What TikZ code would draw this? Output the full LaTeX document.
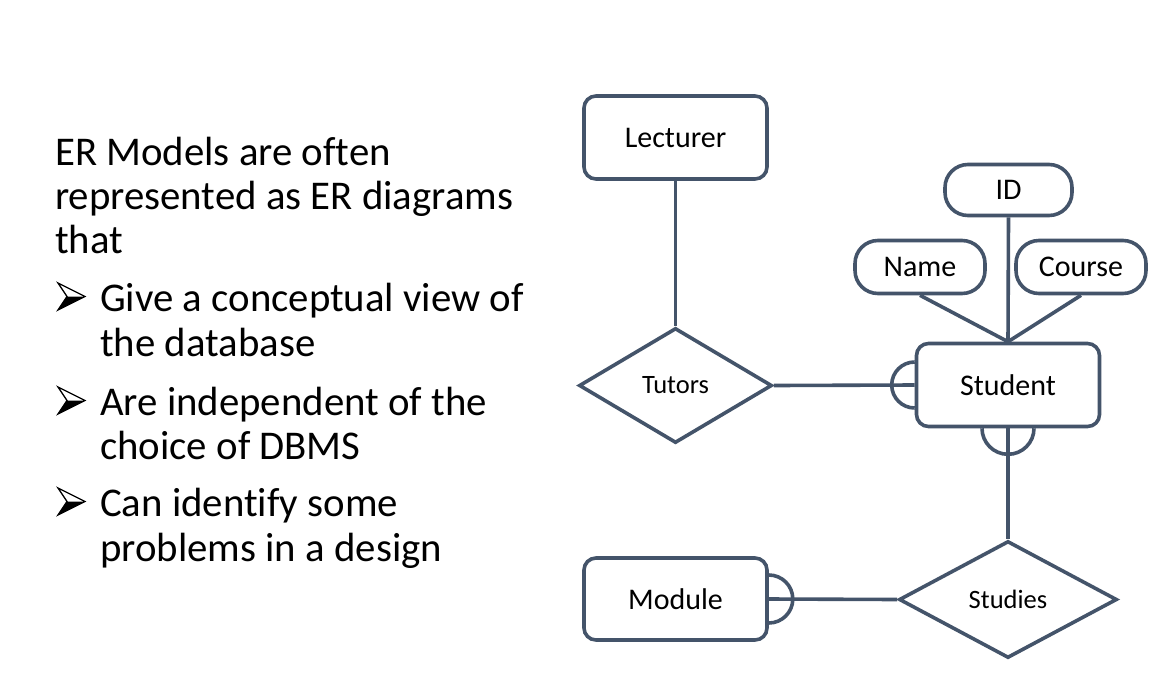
\documentclass[tikz,border=0pt]{standalone}
\usepackage{fontspec}
\setmainfont{Carlito}[Ligatures=NoCommon]
\usetikzlibrary{shapes.geometric,calc}
\definecolor{lineblue}{HTML}{44546A}
\tikzset{
  ln/.style={draw=lineblue, line width=3.6pt},
  entity/.style={ln, rounded corners=12pt, fill=white, inner sep=0pt,
     font=\fontsize{30}{35}\selectfont},
  attr/.style={ln, rounded corners=23pt, fill=white, inner sep=0pt,
     font=\fontsize{30}{35}\selectfont},
  rel/.style={ln, diamond, fill=white, inner sep=0pt,
     font=\fontsize{26.5}{30}\selectfont},
  body/.style={anchor=base west, inner sep=0pt,
     font=\fontsize{40.8}{44}\selectfont},
  bulfill/.style={fill=black},
  buledge/.style={draw=black, line width=1.3pt, line join=miter}
}
\newcommand{\arrowbullet}[2]{%
  \coordinate (#1) at (#2);
  \draw[buledge, fill=white] ($(#1)+(3,-27)$) -- ($(#1)+(30,-13.5)$) -- ($(#1)+(3,0)$) -- ($(#1)+(12,-13.5)$) -- cycle;
  \fill[bulfill] ($(#1)+(12,-13.5)$) -- ($(#1)+(30,-13.5)$) -- ($(#1)+(3,0)$) -- cycle;
}
\begin{document}
\begin{tikzpicture}[x=1pt,y=-1pt]
\useasboundingbox (0,0) rectangle (1162,678);
\fill[white] (0,0) rectangle (1162,678);
% left text
\node[body] (t1) at (55,165) {ER Models are often};
\node[body] (t2) at (55,209) {represented as ER diagrams};
\node[body] (t3) at (55,253) {that};
\arrowbullet{b1}{55,310}
\node[body] (t4) at (100,311) {Give a conceptual view of};
\node[body] (t5) at (100,356) {the database};
\arrowbullet{b2}{55,414}
\node[body] (t6) at (100,415) {Are independent of the};
\node[body] (t7) at (100,459) {choice of DBMS};
\arrowbullet{b3}{55,515}
\node[body] (t8) at (100,516) {Can identify some};
\node[body] (t9) at (100,561) {problems in a design};
% diagram nodes
\node[entity, minimum width=183, minimum height=83] (lect) at (675.5,137.5) {Lecturer};
\node[rel, minimum width=193, minimum height=115] (tut) at (675.5,385.5) {\raisebox{-2pt}{Tutors}};
\node[entity, minimum width=183, minimum height=83] (stu) at (1008,385) {Student};
\node[attr, minimum width=127, minimum height=51] (id) at (1008.5,190) {ID};
\node[attr, minimum width=130, minimum height=53] (name) at (920,267) {Name};
\node[attr, minimum width=130, minimum height=53] (course) at (1081,267) {Course};
\node[rel, minimum width=218, minimum height=117] (stud) at (1008,599.5) {Studies};
\node[entity, minimum width=183, minimum height=82] (mod) at (675.5,599) {Module};
% connectors
\draw[ln] (lect.south) -- (tut.north);
\draw[ln] (tut.east) -- (stu.west);
\draw[ln] (stu.south) -- (stud.north);
\draw[ln] (stud.west) -- (mod.east);
\draw[ln] (id.south) -- (stu.north);
\draw[ln] (name.south) -- (stu.north);
\draw[ln] (course.south) -- (stu.north);
% half circles
\draw[ln] ($(stu.west)+(0,23)$) arc[start angle=90, end angle=270, radius=23];
\draw[ln] ($(stu.south)+(-26,0)$) arc[start angle=180, end angle=0, radius=26];
\draw[ln] ($(mod.east)+(0,-24)$) arc[start angle=-90, end angle=90, radius=24];
\end{tikzpicture}
\end{document}
